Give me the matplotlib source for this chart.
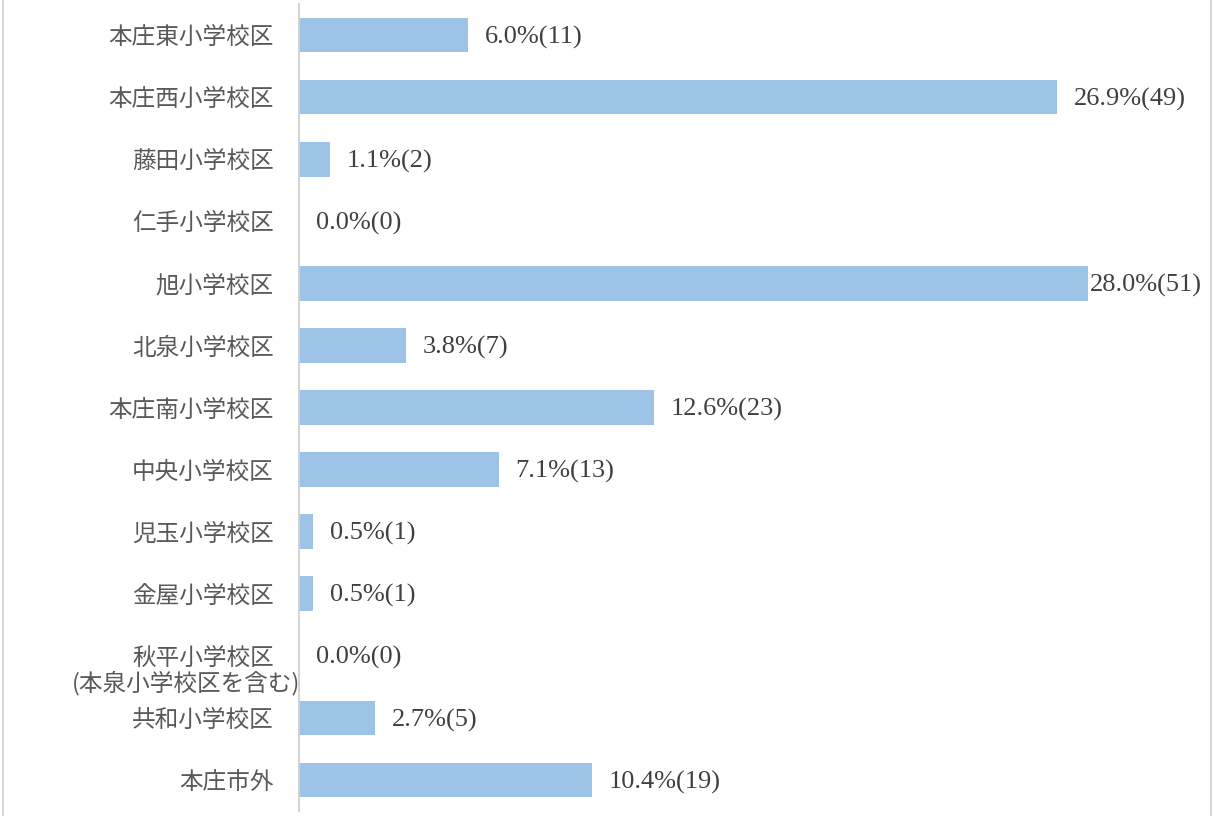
import matplotlib
matplotlib.use("Agg")
import matplotlib.pyplot as plt
from matplotlib.lines import Line2D

categories = ["本庄東小学校区", "本庄西小学校区", "藤田小学校区", "仁手小学校区", "旭小学校区",
              "北泉小学校区", "本庄南小学校区", "中央小学校区", "児玉小学校区", "金屋小学校区",
              "秋平小学校区", "共和小学校区", "本庄市外"]
sub_note = "(本泉小学校区を含む)"
percents = [6.0, 26.9, 1.1, 0.0, 28.0, 3.8, 12.6, 7.1, 0.5, 0.5, 0.0, 2.7, 10.4]
counts = [11, 49, 2, 0, 51, 7, 23, 13, 1, 1, 0, 5, 19]

W, H = 1213, 816
fig = plt.figure(figsize=(W / 100, H / 100), dpi=100)
ax = fig.add_axes([299 / W, 1 - 811 / H, 900 / W, 807 / H])

bar_color = "#9DC3E6"
label_color = "#595959"
value_color = "#404040"
cjk = ["Noto Sans CJK JP", "DejaVu Sans"]
serif = ["Liberation Serif", "Noto Sans CJK JP"]

y = list(range(len(categories)))
ax.barh(y, percents, height=0.56, color=bar_color, edgecolor="none")
ax.set_ylim(len(categories) - 0.5, -0.5)
ax.set_xlim(0, 900 / 28.18)

ax.set_yticks(y)
ax.set_yticklabels(categories, fontsize=17, color=label_color, family=cjk)
ax.tick_params(axis="y", length=0, pad=18)
ax.set_xticks([])

for s in ["top", "right", "bottom"]:
    ax.spines[s].set_visible(False)
ax.spines["left"].set_color("#D0D0D0")
ax.spines["left"].set_linewidth(1.3)

max_p = max(percents)
for yi, p, c in zip(y, percents, counts):
    off = 1 if p == max_p else 12
    ax.annotate(f"{p:.1f}%({c})", xy=(p, yi), xytext=(off, -1.5), textcoords="offset points",
                ha="left", va="center", fontsize=19, color=value_color, family=serif)

idx = categories.index("秋平小学校区")
ax.annotate(sub_note, xy=(0, idx + 0.44), xycoords=("axes fraction", "data"),
            xytext=(1, 0), textcoords="offset points", ha="right", va="center",
            fontsize=17, color=label_color, family=cjk, annotation_clip=False)

for xpx in (3, 1210.5):
    fig.add_artist(Line2D([xpx / W, xpx / W], [0, 1], transform=fig.transFigure,
                          color="#D9D9D9", linewidth=1.5))

fig.savefig("out.png", dpi=100)
